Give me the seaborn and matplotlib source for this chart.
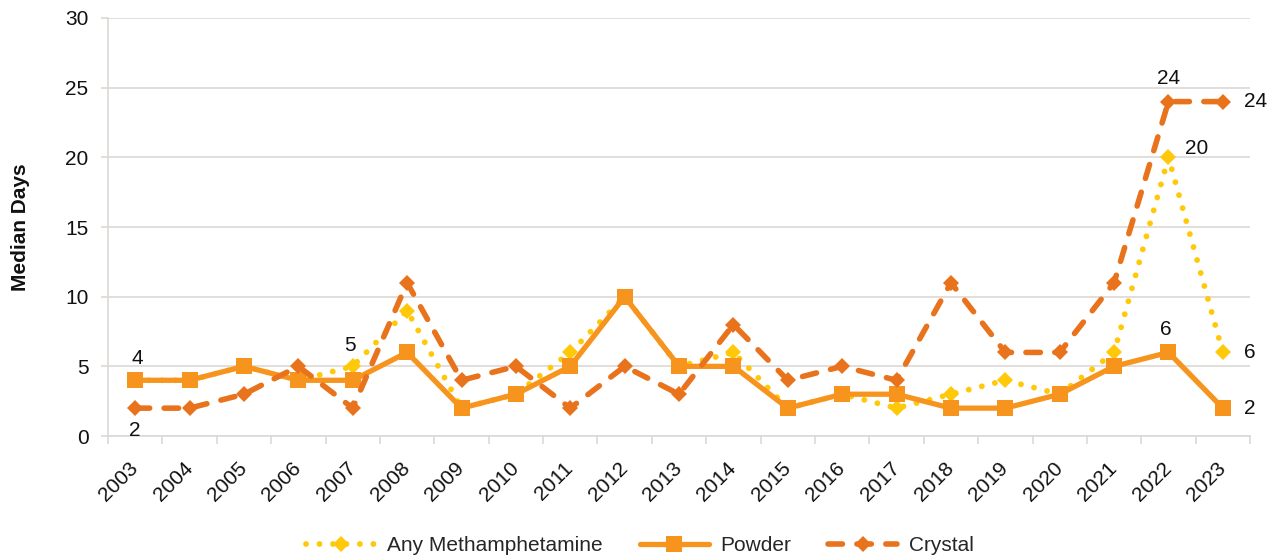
import matplotlib
matplotlib.use("Agg")
import matplotlib.pyplot as plt
import seaborn as sns
import pandas as pd

years = [str(y) for y in range(2003, 2024)]
any_meth = [4, 4, 5, 4, 5, 9, 2, 3, 6, 10, 5, 6, 2, 3, 2, 3, 4, 3, 6, 20, 6]
powder = [4, 4, 5, 4, 4, 6, 2, 3, 5, 10, 5, 5, 2, 3, 3, 2, 2, 3, 5, 6, 2]
crystal = [2, 2, 3, 5, 2, 11, 4, 5, 2, 5, 3, 8, 4, 5, 4, 11, 6, 6, 11, 24, 24]

colors = {"Any Methamphetamine": "#FFC90A", "Powder": "#F7941E", "Crystal": "#E8731C"}
FS = 15

sns.set_theme(style="white")
plt.rcParams["font.family"] = ["Liberation Sans", "DejaVu Sans"]

fig = plt.figure(figsize=(12.8, 5.57), dpi=100)
ax = fig.add_axes([0.0844, 0.2172, 0.8922, 0.7505])

x = list(range(len(years)))
df = pd.DataFrame({"x": x, "Any Methamphetamine": any_meth,
                   "Powder": powder, "Crystal": crystal})

# Any Methamphetamine: round dotted line with diamonds
sns.lineplot(data=df, x="x", y="Any Methamphetamine", ax=ax,
             color=colors["Any Methamphetamine"], linewidth=4.2,
             marker="D", markersize=8.3, markeredgewidth=0,
             linestyle=(0, (0.01, 2.3)), dash_capstyle="round",
             label="Any Methamphetamine", zorder=3)
# Powder: solid line with squares
sns.lineplot(data=df, x="x", y="Powder", ax=ax,
             color=colors["Powder"], linewidth=3.8,
             marker="s", markersize=11, markeredgewidth=0,
             label="Powder", zorder=4)
# Crystal: dashed line with diamonds
sns.lineplot(data=df, x="x", y="Crystal", ax=ax,
             color=colors["Crystal"], linewidth=4.0,
             marker="D", markersize=8.3, markeredgewidth=0,
             linestyle=(0, (2.6, 2.6)), dash_capstyle="round",
             label="Crystal", zorder=5)

ax.set_xlim(-0.5, len(years) - 0.5)
ax.set_ylim(0, 30)
ax.set_yticks(range(0, 31, 5))
ax.set_xticks(x)
ax.set_xticklabels(years, rotation=45, ha="right", va="center",
                   rotation_mode="anchor")
ax.set_xticks([i - 0.5 for i in range(len(years) + 1)], minor=True)

grid_c = "#DCD8D5"
ax.yaxis.grid(True, color=grid_c, linewidth=1.2)
ax.xaxis.grid(False)
ax.set_axisbelow(True)
for side in ["top", "right"]:
    ax.spines[side].set_visible(False)
for side in ["left", "bottom"]:
    ax.spines[side].set_color(grid_c)
    ax.spines[side].set_linewidth(1.2)

ax.tick_params(axis="y", length=5, width=1.2, color=grid_c, pad=9,
               labelsize=FS, labelcolor="#111111", left=True)
ax.tick_params(axis="x", which="major", length=0, pad=21, labelsize=FS,
               labelcolor="#111111")
ax.tick_params(axis="x", which="minor", length=6, width=1.2, color=grid_c,
               direction="out", bottom=True)

ax.set_xlabel("")
ax.set_ylabel("Median Days", fontsize=FS, fontweight="bold", color="#111111")
ax.yaxis.set_label_coords(-0.068, 0.5)

# Value labels
def label(i, vals, dx, dy, ha="center", va="center"):
    ax.annotate(str(vals[i]), (i, vals[i]), xytext=(dx, dy),
                textcoords="offset pixels", ha=ha, va=va,
                fontsize=FS, color="#111111", zorder=6)

label(0, powder, 2, 22)
label(0, crystal, 0, -22)
label(4, any_meth, -3, 21)
label(19, crystal, 0, 23)
label(20, crystal, 21, 0, ha="left")
label(19, any_meth, 17, 9, ha="left")
label(19, powder, -3, 23)
label(20, any_meth, 21, 0, ha="left")
label(20, powder, 21, 0, ha="left")

ax.get_legend().remove()
handles, labels = ax.get_legend_handles_labels()
fig.legend(handles, labels, loc="lower center", bbox_to_anchor=(0.5, -0.03),
           ncol=3, frameon=False, fontsize=FS, handlelength=3.3,
           handletextpad=0.55, columnspacing=1.8)

fig.savefig("out.png", dpi=100)
